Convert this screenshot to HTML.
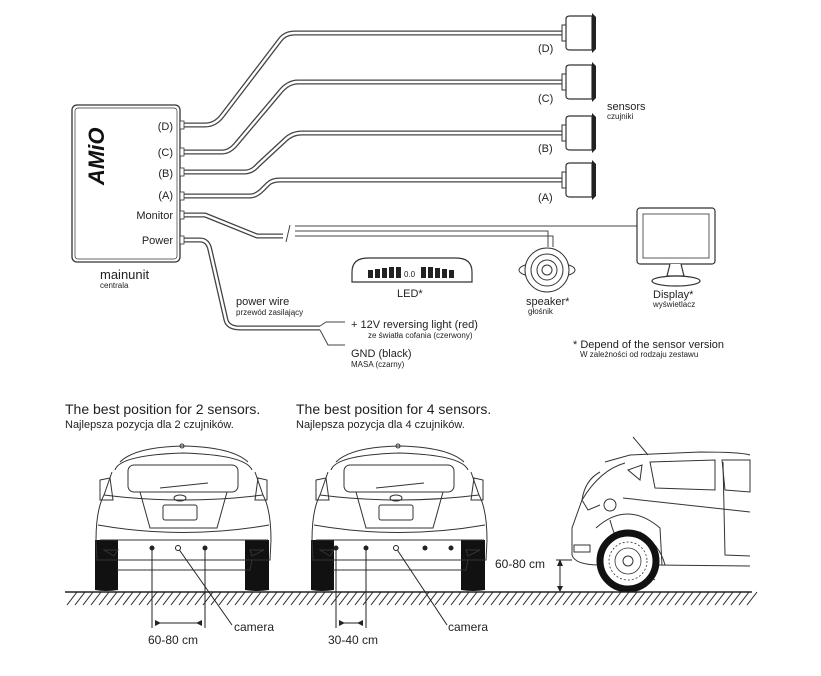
<!DOCTYPE html>
<html><head><meta charset="utf-8"><style>
body{margin:0;background:#fff}
svg{display:block}
text{font-family:"Liberation Sans",sans-serif;fill:#222}
</style></head><body>
<svg width="821" height="676" viewBox="0 0 821 676" xmlns="http://www.w3.org/2000/svg">
<defs>
<g id="sensor">
<rect x="0" y="-8" width="4" height="16" fill="#fff" stroke="#333" stroke-width="1"/>
<path d="M4,-14 Q4,-17 8,-17 L30,-17 L30,17 L8,17 Q4,17 4,14 Z" fill="#fff" stroke="#333" stroke-width="1.2"/>
<path d="M30,-20 L34,-16 L34,16 L30,20 Z" fill="#222"/>
</g>
<g id="rear" fill="none" stroke="#333" stroke-width="1">
<path d="M120,462 Q135,447 183,446 Q232,447 248,462"/>
<path d="M115,470 Q120,455 183,453 Q246,455 252,470"/>
<rect x="128" y="465" width="110" height="27" rx="6"/>
<path d="M112,472 L104,495 Q96,510 96,540 L97,560 L270,560 L271,540 Q271,510 263,495 L255,472"/>
<path d="M104,495 Q183,505 263,495"/>
<path d="M140,492 L150,528 L217,528 L227,492"/>
<rect x="163" y="505" width="34" height="15" rx="2"/>
<ellipse cx="180" cy="498" rx="6" ry="3"/>
<path d="M160,488 L208,483"/>
<path d="M100,480 L110,478 L113,500 L100,500 Z M258,478 L267,480 L267,500 L255,500Z"/>
<path d="M98,525 Q183,540 269,525"/>
<path d="M100,540 L268,540 M115,560 L252,560 L250,570 L117,570"/>
<path d="M104,550 L118,550 L114,556 Z M250,550 L264,550 L252,556Z"/>
<circle cx="182" cy="446" r="2"/>
</g>
<g id="rwheels" fill="#111">
<path d="M95,540 L118,540 L118,590 Q106,592 95,590 Z"/>
<path d="M245,540 L269,540 L269,590 Q257,592 245,590 Z"/>
</g>
</defs>

<g fill="none" stroke-linejoin="round">
<g stroke="#444" stroke-width="5">
<path d="M180,125 L205,125 Q215,125 222,116 L280,40 Q285,33 295,33 L562,33"/>
<path d="M180,152 L222,152 Q230,152 237,143 L280,92 Q288,82 298,82 L562,82"/>
<path d="M180,172 L245,172 Q252,172 258,165 L285,140 Q292,133 302,133 L562,133"/>
<path d="M180,196 L250,196 Q256,196 262,190 L268,184 Q272,180 280,180 L562,180"/>
<path d="M180,215 L205,215 L257,236 L283,236"/>
<path d="M180,240 L200,240 Q208,240 210,250 L226,320 Q228,328 240,328 L320,328"/>
</g>
<g stroke="#fff" stroke-width="2.4">
<path d="M180,125 L205,125 Q215,125 222,116 L280,40 Q285,33 295,33 L562,33"/>
<path d="M180,152 L222,152 Q230,152 237,143 L280,92 Q288,82 298,82 L562,82"/>
<path d="M180,172 L245,172 Q252,172 258,165 L285,140 Q292,133 302,133 L562,133"/>
<path d="M180,196 L250,196 Q256,196 262,190 L268,184 Q272,180 280,180 L562,180"/>
<path d="M180,215 L205,215 L257,236 L283,236"/>
<path d="M180,240 L200,240 Q208,240 210,250 L226,320 Q228,328 240,328 L320,328"/>
</g>
<g stroke="#444" stroke-width="1">
<path d="M295,226 L640,226 M295,231 L548,231 L548,247 M295,236 L553,236 L553,247 M290,225 L286,242"/>
<path d="M320,326 L326,322 L345,322 M320,330 L328,345 L345,345"/>
</g>
</g>
<use href="#sensor" x="562" y="33"/>
<use href="#sensor" x="562" y="82"/>
<use href="#sensor" x="562" y="133"/>
<use href="#sensor" x="562" y="180"/>

<rect x="72" y="105" width="108" height="157" rx="5" fill="#fff" stroke="#333" stroke-width="1.3"/>
<rect x="75" y="108" width="102" height="151" rx="3" fill="none" stroke="#333" stroke-width="0.7"/>
<g fill="#fff" stroke="#333" stroke-width="0.8">
<rect x="180" y="121" width="4" height="8"/><rect x="180" y="148" width="4" height="8"/><rect x="180" y="168" width="4" height="8"/><rect x="180" y="192" width="4" height="8"/><rect x="180" y="211" width="4" height="8"/><rect x="180" y="236" width="4" height="8"/>
</g>
<text x="104" y="185" font-size="22" font-weight="bold" font-style="italic" transform="rotate(-90 104 185)" style="fill:#111">AMiO</text>
<g font-size="11" text-anchor="end">
<text x="173" y="130">(D)</text><text x="173" y="156">(C)</text><text x="173" y="177">(B)</text><text x="173" y="199">(A)</text><text x="173" y="219">Monitor</text><text x="173" y="244">Power</text>
</g>
<text x="100" y="279" font-size="13">mainunit</text>
<text x="100" y="288" font-size="8">centrala</text>

<g font-size="11"><text x="538" y="52">(D)</text><text x="538" y="102">(C)</text><text x="538" y="152">(B)</text><text x="538" y="201">(A)</text></g>
<text x="607" y="110" font-size="11">sensors</text>
<text x="607" y="119" font-size="8">czujniki</text>

<path d="M352,282 L352,272 Q352,258 368,258 L456,258 Q472,258 472,272 L472,282 Z" fill="#fff" stroke="#333" stroke-width="1.2"/>
<g fill="#222"><rect x="368" y="270" width="5" height="8"/><rect x="375" y="269" width="5" height="9"/><rect x="382" y="268" width="5" height="10"/><rect x="389" y="267" width="5" height="11"/><rect x="396" y="267" width="5" height="11"/><rect x="421" y="267" width="5" height="11"/><rect x="428" y="267" width="5" height="11"/><rect x="435" y="268" width="5" height="10"/><rect x="442" y="269" width="5" height="9"/><rect x="449" y="270" width="5" height="8"/></g>
<text x="404" y="277" font-size="8">0.0</text>
<text x="397" y="297" font-size="11">LED*</text>

<g fill="#fff" stroke="#333" stroke-width="1">
<ellipse cx="547" cy="270" rx="28" ry="8"/>
<circle cx="547" cy="270" r="22"/><circle cx="547" cy="270" r="16"/><circle cx="547" cy="270" r="10"/><circle cx="547" cy="270" r="5"/>
</g>
<text x="526" y="305" font-size="11">speaker*</text>
<text x="528" y="314" font-size="8">głośnik</text>

<g fill="#fff" stroke="#333" stroke-width="1.2">
<rect x="637" y="208" width="78" height="56" rx="3"/>
<rect x="643" y="214" width="66" height="44" stroke-width="0.8"/>
<path d="M670,264 L667,276 L684,276 L681,264"/>
<ellipse cx="676" cy="281" rx="24" ry="5"/>
</g>
<text x="653" y="298" font-size="11">Display*</text>
<text x="653" y="307" font-size="8">wyświetlacz</text>

<text x="236" y="305" font-size="11">power wire</text>
<text x="236" y="315" font-size="8">przewód zasilający</text>
<text x="351" y="328" font-size="11">+ 12V reversing light (red)</text>
<text x="368" y="338" font-size="8">ze światła cofania (czerwony)</text>
<text x="351" y="357" font-size="11">GND (black)</text>
<text x="351" y="367" font-size="8">MASA (czarny)</text>
<text x="573" y="348" font-size="11">* Depend of the sensor version</text>
<text x="580" y="357" font-size="8">W zależności od rodzaju zestawu</text>

<text x="65" y="414" font-size="14">The best position for 2 sensors.</text>
<text x="65" y="428" font-size="11">Najlepsza pozycja dla 2 czujników.</text>
<text x="296" y="414" font-size="14">The best position for 4 sensors.</text>
<text x="296" y="428" font-size="11">Najlepsza pozycja dla 4 czujników.</text>

<use href="#rwheels"/><use href="#rear"/>
<use href="#rwheels" x="216"/><use href="#rear" x="216"/>

<g fill="none" stroke="#333" stroke-width="1">
<path d="M633,437 L648,455"/>
<path d="M605,462 L630,455 L700,452 Q740,452 750,455"/>
<path d="M600,472 Q585,480 582,500 L572,528 L572,555 Q575,565 600,565"/>
<path d="M655,565 L750,566 M640,532 Q660,545 665,565"/>
<path d="M625,463 Q600,470 582,500 L588,510 L600,505"/>
<path d="M628,470 L642,465 L640,480 Z M650,462 L715,460 L715,490 L655,488 Z M722,460 L750,460 L750,492 L725,490Z"/>
<path d="M623,498 L750,512 M610,520 Q620,560 655,580 M596,528 Q627,500 660,528 L662,565"/>
<path d="M723,462 L725,555 L750,556"/>
<circle cx="610" cy="505" r="6"/>
<path d="M574,545 L590,545 L590,552 L574,552Z"/>
</g>
<circle cx="628" cy="561" r="28" fill="#fff" stroke="#111" stroke-width="7"/>
<circle cx="628" cy="561" r="19" fill="none" stroke="#333" stroke-width="0.8" stroke-dasharray="2 2"/>
<circle cx="628" cy="561" r="13" fill="none" stroke="#333" stroke-width="0.8"/>
<circle cx="628" cy="561" r="5" fill="none" stroke="#333"/>

<line x1="65" y1="592" x2="752" y2="592" stroke="#222" stroke-width="1.5"/>
<path d="M67,605 L77,592 M75,605 L85,592 M83,605 L93,592 M91,605 L101,592 M99,605 L109,592 M107,605 L117,592 M115,605 L125,592 M123,605 L133,592 M131,605 L141,592 M139,605 L149,592 M147,605 L157,592 M155,605 L165,592 M163,605 L173,592 M171,605 L181,592 M179,605 L189,592 M187,605 L197,592 M195,605 L205,592 M203,605 L213,592 M211,605 L221,592 M219,605 L229,592 M227,605 L237,592 M235,605 L245,592 M243,605 L253,592 M251,605 L261,592 M259,605 L269,592 M267,605 L277,592 M275,605 L285,592 M283,605 L293,592 M291,605 L301,592 M299,605 L309,592 M307,605 L317,592 M315,605 L325,592 M323,605 L333,592 M331,605 L341,592 M339,605 L349,592 M347,605 L357,592 M355,605 L365,592 M363,605 L373,592 M371,605 L381,592 M379,605 L389,592 M387,605 L397,592 M395,605 L405,592 M403,605 L413,592 M411,605 L421,592 M419,605 L429,592 M427,605 L437,592 M435,605 L445,592 M443,605 L453,592 M451,605 L461,592 M459,605 L469,592 M467,605 L477,592 M475,605 L485,592 M483,605 L493,592 M491,605 L501,592 M499,605 L509,592 M507,605 L517,592 M515,605 L525,592 M523,605 L533,592 M531,605 L541,592 M539,605 L549,592 M547,605 L557,592 M555,605 L565,592 M563,605 L573,592 M571,605 L581,592 M579,605 L589,592 M587,605 L597,592 M595,605 L605,592 M603,605 L613,592 M611,605 L621,592 M619,605 L629,592 M627,605 L637,592 M635,605 L645,592 M643,605 L653,592 M651,605 L661,592 M659,605 L669,592 M667,605 L677,592 M675,605 L685,592 M683,605 L693,592 M691,605 L701,592 M699,605 L709,592 M707,605 L717,592 M715,605 L725,592 M723,605 L733,592 M731,605 L741,592 M739,605 L749,592 M747,605 L757,592" stroke="#222" stroke-width="1"/>

<g stroke="#222" stroke-width="1" fill="none">
<path d="M152,548 L152,628 M205,548 L205,628 M155,623 L202,623"/>
<path d="M178,548 L232,625"/>
<path d="M336,548 L336,628 M366,548 L366,628 M339,623 L363,623"/>
<path d="M396,548 L447,625"/>
<path d="M560,560 L560,592 M556,560 L572,560"/>
</g>
<g fill="#222">
<circle cx="152" cy="548" r="2.5"/><circle cx="205" cy="548" r="2.5"/>
<circle cx="336" cy="548" r="2.5"/><circle cx="366" cy="548" r="2.5"/><circle cx="425" cy="548" r="2.5"/><circle cx="451" cy="548" r="2.5"/>
<path d="M155,620 L161,623 L155,626Z M202,620 L196,623 L202,626Z M339,620 L345,623 L339,626Z M363,620 L357,623 L363,626Z"/>
<path d="M557,566 L560,559 L563,566Z M557,586 L560,592 L563,586Z"/>
</g>
<circle cx="178" cy="548" r="2.5" fill="#fff" stroke="#222"/>
<circle cx="396" cy="548" r="2.5" fill="#fff" stroke="#222"/>
<g font-size="12">
<text x="148" y="644">60-80 cm</text>
<text x="234" y="631">camera</text>
<text x="328" y="644">30-40 cm</text>
<text x="448" y="631">camera</text>
<text x="495" y="568">60-80 cm</text>
</g>
</svg>
</body></html>
